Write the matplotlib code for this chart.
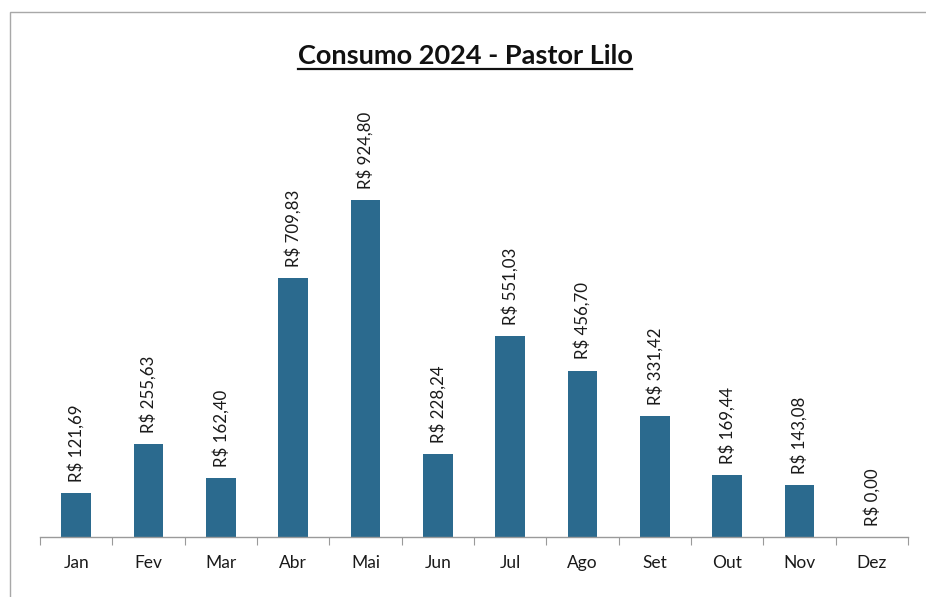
import matplotlib
matplotlib.use("Agg")
import matplotlib.pyplot as plt
from matplotlib.patches import Rectangle

months = ["Jan", "Fev", "Mar", "Abr", "Mai", "Jun", "Jul", "Ago", "Set", "Out", "Nov", "Dez"]
values = [121.69, 255.63, 162.40, 709.83, 924.80, 228.24, 551.03, 456.70, 331.42, 169.44, 143.08, 0.00]
labels = ["R$ 121,69", "R$ 255,63", "R$ 162,40", "R$ 709,83", "R$ 924,80", "R$ 228,24",
          "R$ 551,03", "R$ 456,70", "R$ 331,42", "R$ 169,44", "R$ 143,08", "R$ 0,00"]
title = "Consumo 2024 - Pastor Lilo"

plt.rcParams['font.family'] = ['Lato', 'DejaVu Sans']

fig = plt.figure(figsize=(9.26, 5.97), dpi=100)
fig.patch.set_facecolor("white")

# chart border (scan-like frame)
fig.add_artist(Rectangle((10/926, -0.1), 1.2, (597-12)/597 + 0.1, transform=fig.transFigure,
                         fill=False, edgecolor="#a8a8a8", linewidth=1.0))

ax = fig.add_axes([40/926, (597-537)/597, 868/926, (537-99.7)/597])
bar_color = "#2b6a8e"
x = list(range(len(months)))
ax.bar(x, values, width=0.41, color=bar_color, zorder=2)
ax.set_xlim(-0.5, len(months) - 0.5)
ax.set_ylim(0, 1200)

for xi, v, lab in zip(x, values, labels):
    ax.annotate(lab, (xi, v), xytext=(0, 8), textcoords="offset points",
                rotation=90, ha="center", va="bottom", fontsize=12.2, color="#1a1a1a")

for s in ["top", "right", "left"]:
    ax.spines[s].set_visible(False)
ax.spines["bottom"].set_color("#9a9a9a")
ax.spines["bottom"].set_linewidth(1.0)
ax.set_yticks([])
ax.set_xticks([i - 0.5 for i in range(len(months) + 1)], minor=False)
ax.set_xticklabels([""] * (len(months) + 1))
ax.tick_params(axis="x", which="major", length=6, color="#9a9a9a", direction="out")
ax.set_xticks(x, minor=True)
ax.set_xticklabels(months, minor=True, fontsize=12.5, color="#1a1a1a")
ax.tick_params(axis="x", which="minor", length=0, pad=13)

t = fig.text(465/926, 1 - 64/597, title, ha="center", va="baseline", fontsize=19.5,
             fontweight="bold", color="#111111")
fig.canvas.draw()
bb = t.get_window_extent()
# underline matching text width
fig.add_artist(plt.Line2D([bb.x0/926, bb.x1/926], [1 - 69/597, 1 - 69/597],
                          transform=fig.transFigure, color="#111111", linewidth=1.6))

fig.savefig("out.png", dpi=100)
